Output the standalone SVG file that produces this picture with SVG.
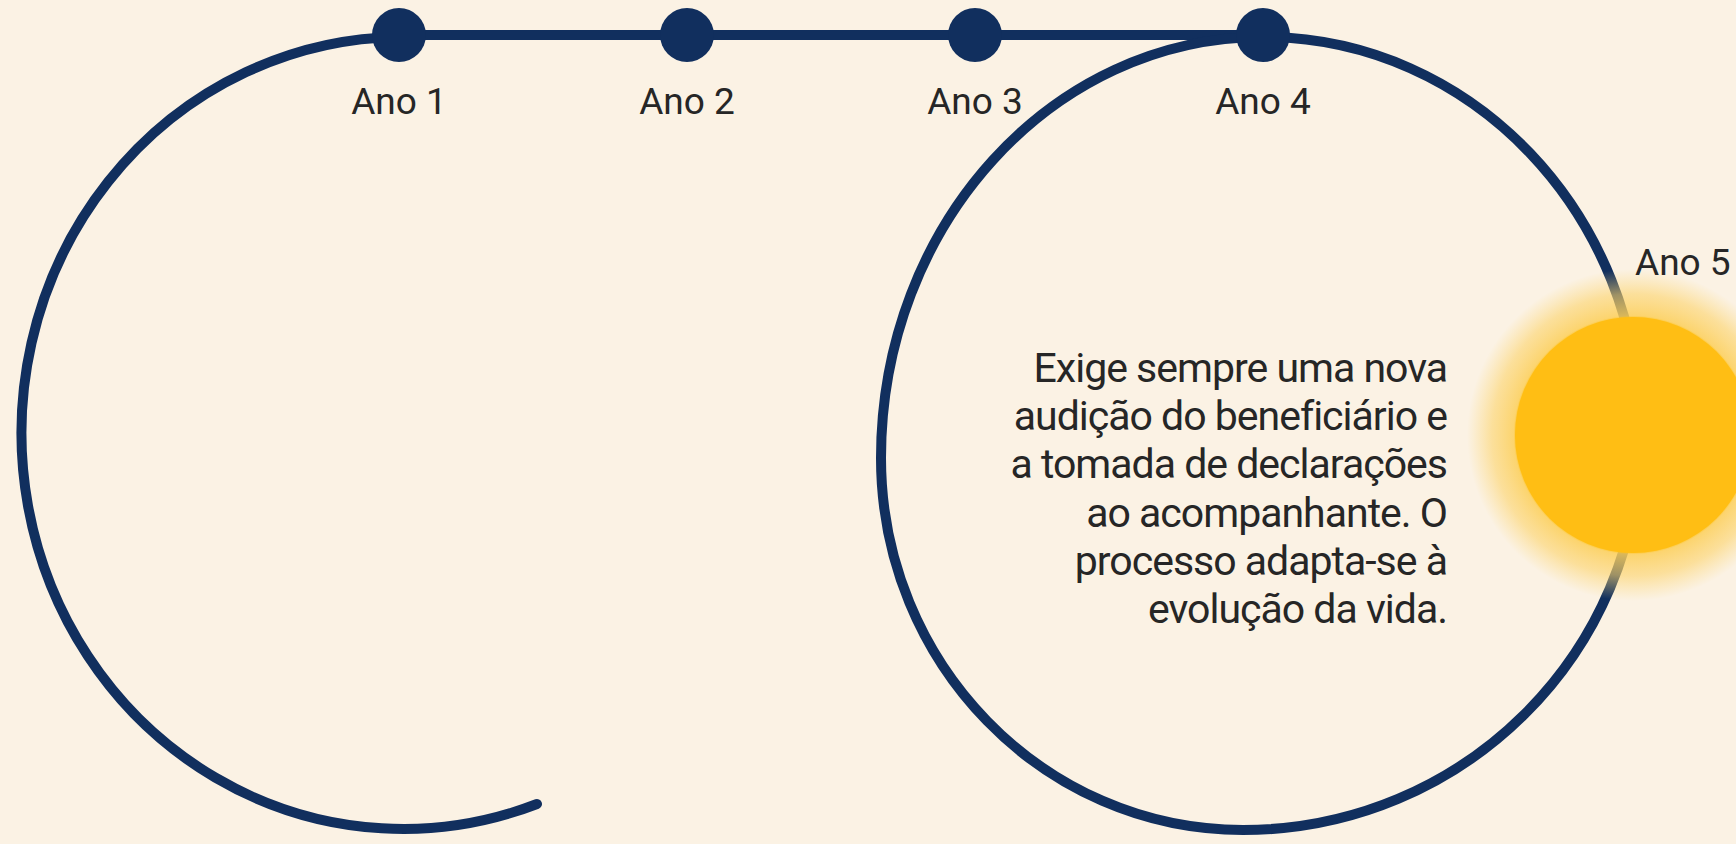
<svg xmlns="http://www.w3.org/2000/svg" width="1736" height="844" viewBox="0 0 1736 844">
  <defs>
    <style>
      .line { fill: none; stroke: #112f5e; stroke-width: 10; stroke-linecap: round; }
      .dot { fill: #112f5e; }
      .label { font-family: Roboto, "Liberation Sans", sans-serif; font-size: 37px; fill: #262626; text-anchor: middle; }
      .label-start { text-anchor: start; }
      .body { font-family: Roboto, "Liberation Sans", sans-serif; font-size: 41px; letter-spacing: -1px; fill: #262626; text-anchor: end; }
    </style>
    <radialGradient id="glow" cx="0.5" cy="0.5" r="0.5">
      <stop offset="0" stop-color="#ffc21a" stop-opacity="1"/>
      <stop offset="0.70" stop-color="#ffc21a" stop-opacity="1"/>
      <stop offset="0.72" stop-color="#fccf5a" stop-opacity="0.85"/>
      <stop offset="0.85" stop-color="#fcd36a" stop-opacity="0.6"/>
      <stop offset="1" stop-color="#fcd879" stop-opacity="0"/>
    </radialGradient>
  </defs>
  <rect x="0" y="0" width="1736" height="844" fill="#fbf2e4"/>

  <g id="connectors">
    <line class="line" x1="399" y1="35" x2="1263" y2="35"/>
    <path class="line" d="M 399 37 A 382 396 0 1 0 537 804"/>
    <path class="line" d="M 1263 37 C 1472 37 1641 215 1641 435 C 1641 653 1463 830 1243 830 C 1043 830 881 663 881 458 C 881 225 1052 37 1263 37 Z"/>
  </g>

  <g id="node-ano1">
    <circle class="dot" cx="399" cy="35" r="27"/>
    <text class="label" x="399" y="114">Ano 1</text>
  </g>
  <g id="node-ano2">
    <circle class="dot" cx="687" cy="35" r="27"/>
    <text class="label" x="687" y="114">Ano 2</text>
  </g>
  <g id="node-ano3">
    <circle class="dot" cx="975" cy="35" r="27"/>
    <text class="label" x="975" y="114">Ano 3</text>
  </g>
  <g id="node-ano4">
    <circle class="dot" cx="1263" cy="35" r="27"/>
    <text class="label" x="1263" y="114">Ano 4</text>
  </g>
  <g id="node-ano5">
    <circle cx="1633" cy="435" r="166" fill="url(#glow)"/>
    <circle cx="1633" cy="435" r="118" fill="#ffbe14"/>
    <text class="label label-start" x="1635" y="275">Ano 5</text>
  </g>

  <g id="description">
    <text class="body" x="1447" y="382">Exige sempre uma nova</text>
    <text class="body" x="1447" y="430">audição do beneficiário e</text>
    <text class="body" x="1447" y="478">a tomada de declarações</text>
    <text class="body" x="1447" y="527">ao acompanhante. O</text>
    <text class="body" x="1447" y="575">processo adapta-se à</text>
    <text class="body" x="1447" y="623">evolução da vida.</text>
  </g>
</svg>
